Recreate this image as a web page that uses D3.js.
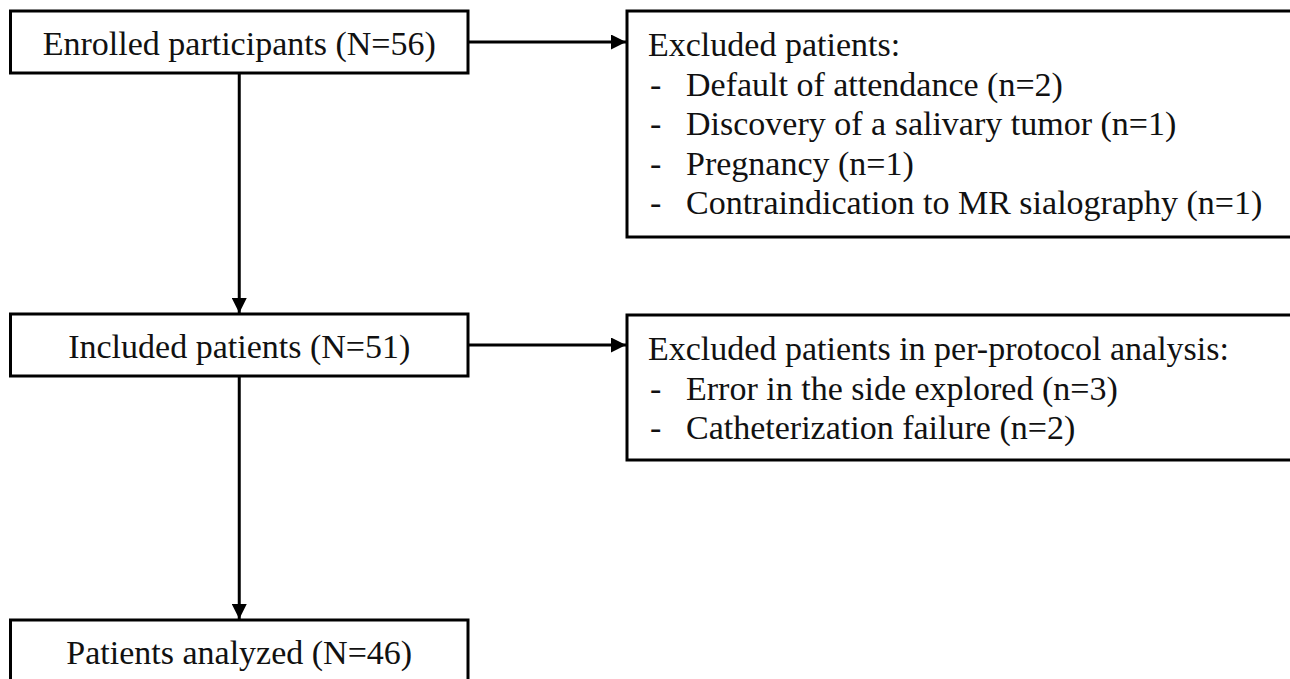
<!DOCTYPE html>
<html>
<head>
<meta charset="utf-8">
<script src="https://cdn.jsdelivr.net/npm/d3@7.9.0/dist/d3.min.js"></script>
<style>
  html, body { margin: 0; padding: 0; background: #fff; }
  svg { display: block; }
  text { font-family: "Liberation Serif", "Times New Roman", serif; fill: #111; }
</style>
</head>
<body>
<div id="chart"></div>
<script>
// flow stages (main column)
const stageLabels = ['Enrolled participants', 'Included patients', 'Patients analyzed'];
const stageCounts = [56, 51, 46];

// exclusion boxes (right column)
const exclTitles = ['Excluded patients:', 'Excluded patients in per-protocol analysis:'];
const exclReasons = [
  ['Default of attendance', 'Discovery of a salivary tumor', 'Pregnancy', 'Contraindication to MR sialography'],
  ['Error in the side explored', 'Catheterization failure'],
];
const exclCounts = [
  [2, 1, 1, 1],
  [3, 2],
];

const width = 1290;
const height = 679;
const fontSize = 34;
const lineGap = 39.5;
const stroke = 3;

// layout
const mainBox = { left: 10.5, right: 468, h: 62 };
const stageTop = [11, 314, 620];
const exclBox = { left: 627, right: 1310 };
const exclTop = [11, 315];
const exclBottom = [237, 460];

const svg = d3.select('#chart')
  .append('svg')
  .attr('width', width)
  .attr('height', height);

// arrow head
svg.append('defs')
  .append('marker')
  .attr('id', 'head')
  .attr('markerUnits', 'userSpaceOnUse')
  .attr('viewBox', '0 0 15 15')
  .attr('refX', 15)
  .attr('refY', 7.5)
  .attr('markerWidth', 15)
  .attr('markerHeight', 15)
  .attr('orient', 'auto')
  .append('path')
  .attr('d', 'M0,0 L15,7.5 L0,15 Z')
  .attr('fill', '#000');

const cx = (mainBox.left + mainBox.right) / 2;

// vertical arrows between stages
const links = d3.pairs(stageTop);
svg.append('g')
  .selectAll('line')
  .data(links)
  .join('line')
  .attr('x1', cx)
  .attr('x2', cx)
  .attr('y1', (d) => d[0] + mainBox.h)
  .attr('y2', (d) => d[1] - 1)
  .attr('stroke', '#000')
  .attr('stroke-width', stroke)
  .attr('marker-end', 'url(#head)');

// horizontal arrows to exclusion boxes
svg.append('g')
  .selectAll('line')
  .data(exclTitles)
  .join('line')
  .attr('x1', mainBox.right)
  .attr('x2', exclBox.left - 1)
  .attr('y1', (d, i) => stageTop[i] + mainBox.h / 2)
  .attr('y2', (d, i) => stageTop[i] + mainBox.h / 2)
  .attr('stroke', '#000')
  .attr('stroke-width', stroke)
  .attr('marker-end', 'url(#head)');

// main stage boxes
const stages = svg.append('g')
  .selectAll('g')
  .data(stageLabels)
  .join('g');

stages.append('rect')
  .attr('x', mainBox.left)
  .attr('y', (d, i) => stageTop[i])
  .attr('width', mainBox.right - mainBox.left)
  .attr('height', mainBox.h)
  .attr('fill', '#fff')
  .attr('stroke', '#000')
  .attr('stroke-width', stroke);

stages.append('text')
  .attr('x', cx)
  .attr('y', (d, i) => stageTop[i] + 44)
  .attr('text-anchor', 'middle')
  .attr('font-size', fontSize)
  .text((d, i) => `${d} (N=${stageCounts[i]})`);

// exclusion boxes
const excl = svg.append('g')
  .selectAll('g')
  .data(exclTitles)
  .join('g');

excl.append('rect')
  .attr('x', exclBox.left)
  .attr('y', (d, i) => exclTop[i])
  .attr('width', exclBox.right - exclBox.left)
  .attr('height', (d, i) => exclBottom[i] - exclTop[i])
  .attr('fill', '#fff')
  .attr('stroke', '#000')
  .attr('stroke-width', stroke);

excl.append('text')
  .attr('x', 648)
  .attr('y', (d, i) => exclTop[i] + 45)
  .attr('font-size', fontSize)
  .text((d) => d);

excl.each(function (title, i) {
  const rows = exclReasons[i].map((r, j) => ({ reason: r, n: exclCounts[i][j], j }));
  const g = d3.select(this);
  g.selectAll('text.dash')
    .data(rows)
    .join('text')
    .attr('class', 'dash')
    .attr('x', 650)
    .attr('y', (d) => exclTop[i] + 45 + lineGap * (d.j + 1))
    .attr('font-size', fontSize)
    .text('-');
  g.selectAll('text.reason')
    .data(rows)
    .join('text')
    .attr('class', 'reason')
    .attr('x', 686)
    .attr('y', (d) => exclTop[i] + 45 + lineGap * (d.j + 1))
    .attr('font-size', fontSize)
    .text((d) => `${d.reason} (n=${d.n})`);
});
</script>
</body>
</html>
